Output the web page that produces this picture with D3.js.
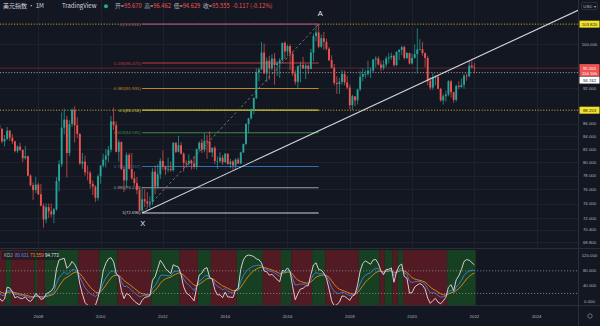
<!DOCTYPE html>
<html><head><meta charset="utf-8">
<script src="https://cdn.jsdelivr.net/npm/d3@7"></script>
<style>
html,body{margin:0;padding:0;background:#131722;overflow:hidden;}
svg{display:block;font-family:"Liberation Sans",Arial,sans-serif;}
text{white-space:pre;}
</style></head><body>
<svg id="chart" width="600" height="326"></svg>
<script>
// US Dollar Index, monthly bars from 2005-01 to 2022-01
const firstYear = 2005;
const open = [
 81.0,83.8,82.4,84.3,84.4,87.5,89.1,88.8,86.9,89.2,89.8,91.6,
 91.2,89.4,90.4,89.7,86.8,85.4,85.4,85.1,85.0,85.8,85.2,83.2,
 83.6,84.9,83.8,83.2,81.7,82.4,81.9,80.6,80.9,78.0,76.6,75.9,
 76.7,75.3,73.7,71.8,73.5,72.9,72.5,73.2,77.2,79.7,85.4,86.7,
 81.4,86.0,88.3,85.8,84.4,79.8,80.1,78.5,78.4,76.8,76.4,74.8,
 77.9,79.5,80.4,81.0,81.9,86.4,85.8,81.6,83.1,79.0,77.3,81.1,
 79.0,77.6,76.9,75.9,73.0,74.6,74.3,74.0,74.2,78.6,76.4,78.2,
 80.2,79.3,78.9,79.0,78.8,83.0,81.6,82.6,81.3,79.9,79.8,80.2,
 79.8,79.3,82.0,83.0,81.9,83.3,83.2,81.5,82.2,80.2,80.2,80.7,
 80.0,81.3,79.7,80.1,79.5,80.4,79.8,81.5,82.8,86.0,86.9,88.4,
 90.3,94.8,95.3,98.4,94.6,96.9,95.5,97.3,96.1,96.4,97.0,100.2,
 98.6,99.6,98.2,94.6,93.1,95.9,96.1,95.5,96.0,95.4,98.4,101.5,
 102.2,99.5,101.1,100.4,99.1,97.0,95.6,92.9,92.7,93.1,94.5,93.0,
 92.1,89.1,90.6,89.9,91.8,94.0,94.5,94.5,95.1,95.1,97.1,97.3,
 96.2,95.6,96.2,97.3,97.5,97.8,96.1,98.5,98.9,99.4,97.4,98.3,
 96.4,97.4,98.1,99.0,99.0,98.3,97.4,93.3,92.1,93.9,94.0,91.9,
 89.9,90.6,90.9,93.2,91.3,90.0,92.4,92.2,92.6,94.2,94.1,96.0,
 95.670];
const high = [
 84.2,84.4,84.6,85.2,87.6,89.6,90.3,89.1,89.5,90.4,92.6,92.0,
 91.6,91.0,91.0,90.1,87.0,87.3,86.4,85.6,86.1,87.0,85.3,84.2,
 85.5,85.0,84.4,83.3,82.6,83.0,81.9,82.5,81.0,78.2,77.0,77.8,
 77.0,76.8,74.0,74.0,74.0,74.0,73.4,77.8,80.3,87.9,88.5,87.3,
 86.6,88.6,88.9,87.1,84.5,81.4,81.0,79.5,78.7,77.3,76.6,78.2,
 79.6,81.3,82.0,82.5,87.3,88.7,86.4,83.5,83.2,79.3,81.5,81.4,
 81.4,78.6,77.8,76.4,76.4,76.0,75.6,75.0,79.1,79.5,79.7,80.6,
 81.8,79.5,80.7,80.1,83.1,83.0,84.1,83.1,81.5,80.3,81.2,80.4,
 80.9,82.1,83.2,83.6,84.5,84.2,84.8,82.3,82.5,80.9,81.5,81.1,
 81.4,81.3,80.5,80.3,80.6,80.7,81.6,82.9,86.1,87.0,88.5,90.4,
 95.5,95.6,100.4,100.1,97.5,97.8,98.1,98.3,96.8,97.4,100.3,100.5,
 99.9,99.9,98.6,95.2,96.0,96.7,97.6,96.3,96.2,99.1,102.0,103.6,
 103.82,101.8,102.3,101.0,99.4,97.9,96.3,94.1,93.8,95.2,95.1,94.2,
 92.6,90.9,90.6,91.9,95.0,95.5,95.2,96.9,95.7,97.2,97.7,97.7,
 96.9,97.0,97.7,98.3,98.4,98.0,98.7,99.0,99.7,99.7,98.5,98.4,
 98.2,99.9,103.0,100.9,100.4,98.4,97.8,93.9,94.7,94.3,94.3,92.0,
 91.0,91.6,93.4,93.4,91.4,92.6,93.2,93.7,94.5,94.6,96.9,96.9,
 96.462];
const low = [
 80.4,81.9,80.4,83.0,84.1,86.7,87.5,86.1,86.4,88.6,89.6,89.9,
 88.9,89.2,88.9,86.6,84.0,84.7,84.7,84.3,84.7,84.9,82.9,82.4,
 83.4,83.3,82.8,81.5,81.4,81.7,80.0,80.4,77.9,76.4,74.5,75.5,
 75.2,73.6,70.7,71.3,72.0,72.1,71.3,73.0,75.7,79.3,84.3,77.7,
 80.9,85.5,83.0,83.7,79.6,79.0,78.0,77.3,76.1,75.2,74.2,74.4,
 76.8,79.2,79.2,80.0,81.5,85.0,81.5,80.1,78.8,75.6,76.2,78.9,
 77.4,76.5,75.3,72.9,72.696,73.5,73.5,73.4,73.8,75.3,76.1,77.5,
 78.9,78.1,78.5,78.6,78.6,81.4,81.5,81.2,78.6,79.2,79.5,78.9,
 79.0,78.9,81.6,81.4,81.5,80.5,81.5,80.8,79.7,79.0,79.9,79.6,
 79.9,79.7,79.1,78.9,78.9,79.8,79.7,81.4,82.6,84.5,86.7,87.6,
 90.1,93.2,95.2,94.5,93.1,93.5,95.1,92.6,94.1,93.8,96.8,97.2,
 97.7,95.2,94.1,92.6,91.9,93.0,95.4,93.6,94.5,95.3,96.8,100.5,
 99.2,99.2,98.9,98.8,96.8,95.5,92.5,91.0,91.0,92.6,92.5,91.8,
 88.4,88.3,88.9,89.2,91.5,93.2,93.7,94.1,93.8,94.8,95.7,96.0,
 95.0,95.2,95.7,96.4,97.0,95.8,95.9,97.0,97.9,97.1,97.2,96.2,
 96.2,97.3,94.6,98.8,97.8,95.7,92.5,91.7,91.7,92.5,91.8,89.7,
 89.2,89.7,90.6,90.4,89.5,89.7,91.8,92.0,91.9,93.3,93.9,95.5,
 94.629];
const close = [
 83.8,82.4,84.3,84.4,87.5,89.1,88.8,86.9,89.2,89.8,91.6,91.2,
 89.4,90.4,89.7,86.8,85.4,85.4,85.1,85.0,85.8,85.2,83.2,83.6,
 84.9,83.8,83.2,81.7,82.4,81.9,80.6,80.9,78.0,76.6,75.9,76.7,
 75.3,73.7,71.8,73.5,72.9,72.5,73.2,77.2,79.7,85.4,86.7,81.4,
 86.0,88.3,85.8,84.4,79.8,80.1,78.5,78.4,76.8,76.4,74.8,77.9,
 79.5,80.4,81.0,81.9,86.4,85.8,81.6,83.1,79.0,77.3,81.1,79.0,
 77.6,76.9,75.9,73.0,74.6,74.3,74.0,74.2,78.6,76.4,78.2,80.2,
 79.3,78.9,79.0,78.8,83.0,81.6,82.6,81.3,79.9,79.8,80.2,79.8,
 79.3,82.0,83.0,81.9,83.3,83.2,81.5,82.2,80.2,80.2,80.7,80.0,
 81.3,79.7,80.1,79.5,80.4,79.8,81.5,82.8,86.0,86.9,88.4,90.3,
 94.8,95.3,98.4,94.6,96.9,95.5,97.3,96.1,96.4,97.0,100.2,98.6,
 99.6,98.2,94.6,93.1,95.9,96.1,95.5,96.0,95.4,98.4,101.5,102.2,
 99.5,101.1,100.4,99.1,97.0,95.6,92.9,92.7,93.1,94.5,93.0,92.1,
 89.1,90.6,89.9,91.8,94.0,94.5,94.5,95.1,95.1,97.1,97.3,96.2,
 95.6,96.2,97.3,97.5,97.8,96.1,98.5,98.9,99.4,97.4,98.3,96.4,
 97.4,98.1,99.0,99.0,98.3,97.4,93.3,92.1,93.9,94.0,91.9,89.9,
 90.6,90.9,93.2,91.3,90.0,92.4,92.2,92.6,94.2,94.1,96.0,95.7,
 95.555];

const yearLabels = [2008, 2010, 2012, 2014, 2016, 2018, 2020, 2022, 2024];
const priceTicks = [68.8, 70.4, 72, 74, 76, 78, 80, 82, 84, 86, 92, 100];
const kdjTicks = [0, 40, 80, 120];
const kdjLevels = [20, 80];
// KDJ trend regimes (month where each one begins) used for the pane shading
const kdjRegimes = [
 ["2005-01", "down"], ["2007-01", "up"], ["2007-03", "down"], ["2007-12", "up"], ["2008-01", "down"],
 ["2008-04", "up"], ["2009-05", "down"], ["2010-01", "up"], ["2010-08", "down"], ["2011-09", "up"],
 ["2012-08", "down"], ["2013-03", "up"], ["2013-08", "down"], ["2014-06", "up"], ["2015-04", "down"],
 ["2015-11", "up"], ["2016-03", "down"], ["2016-11", "up"], ["2017-04", "down"], ["2018-05", "up"],
 ["2019-01", "down"], ["2019-03", "up"], ["2019-06", "down"], ["2019-08", "up"], ["2019-10", "down"],
 ["2021-03", "up"]];

// Fibonacci retracement between the 2011 low (X) and the 2017 high (A)
const fibLow = {month: "2011-05", price: 72.696};
const fibHigh = {month: "2017-01", price: 103.820};
const fibRatios = [0, 0.236, 0.382, 0.5, 0.618, 0.786, 0.886, 1];
// Rising trend line from the 2011 low
const trendPoints = [{month: "2011-05", price: 72.696}, {month: "2022-01", price: 97.3}];
const levelLines = [103.820, 88.253];
const markLine = 94.742;
const lastBar = {open: 95.670, high: 96.462, low: 94.629, close: 95.555, change: -0.117, pct: -0.12};
const countdown = "11d 10h";
const kdjLegend = [80.631, 73.559, 94.773];

const fibColors = ["#9a4a78", "#c23b3f", "#c98420", "#cdc53a", "#3f8a3c", "#2f6fb8", "#9ea1aa", "#cfd1d6"];
const UP = "#26a69a", DOWN = "#ef5350";

const W = 600, H = 326, plotR = 578, mainB = 248, indT = 249, indB = 305;
const idx = m => { const [yy, mm] = m.split("-").map(Number); return (yy - firstYear) * 12 + mm - 1; };

const svg = d3.select("#chart");
svg.append("rect").attr("width", W).attr("height", H).attr("fill", "#131722");
const defs = svg.append("defs");
defs.append("clipPath").attr("id", "cMain").append("rect").attr("x", 0).attr("y", 0).attr("width", plotR).attr("height", mainB);
defs.append("clipPath").attr("id", "cInd").append("rect").attr("x", 0).attr("y", indT).attr("width", plotR).attr("height", indB - indT);

const x = d3.scaleLinear().domain([idx("2008-01"), idx("2022-01")]).range([38.3, 474.4]);
const y = d3.scaleLog().domain([68.04, 108.66]).range([mainB, 0]);
const yk = d3.scaleLinear().domain([0, 120]).range([301, 255.7]);
const step = x(1) - x(0);
const bars = close.map((c, i) => ({i, o: open[i], h: high[i], l: low[i], c}));
const lastIdx = bars.length - 1;

// ---------- KDJ shading (drawn first, under the grid) ----------
const ind = svg.append("g").attr("clip-path", "url(#cInd)");
const spans = kdjRegimes.map(([m, s], k) => ({
  s, a: idx(m), b: k + 1 < kdjRegimes.length ? idx(kdjRegimes[k + 1][0]) - 1 : lastIdx
}));
ind.selectAll("rect.regime").data(spans).join("rect").attr("class", "regime")
  .attr("x", d => x(d.a) - step / 2).attr("width", d => (d.b - d.a + 1) * step)
  .attr("y", indT + 1).attr("height", indB - indT - 1)
  .attr("fill", d => d.s === "up" ? "#173f22" : "#521a22");

// grid
const grid = svg.append("g").attr("stroke", "#1d212c").attr("stroke-width", 1);
yearLabels.forEach(yr => {
  const gx = Math.round(x(idx(yr + "-01"))) + 0.5;
  grid.append("line").attr("x1", gx).attr("x2", gx).attr("y1", 0).attr("y2", mainB);
});
priceTicks.forEach(p => {
  const gy = Math.round(y(p)) + 0.5;
  grid.append("line").attr("x1", 0).attr("x2", plotR).attr("y1", gy).attr("y2", gy);
});

// ---------- main pane ----------
const main = svg.append("g").attr("clip-path", "url(#cMain)");

levelLines.forEach(p => {
  main.append("line").attr("x1", 0).attr("x2", plotR).attr("y1", y(p)).attr("y2", y(p))
    .attr("stroke", "#c9b626").attr("stroke-width", 0.9).attr("stroke-dasharray", "1.2,1.6");
});
main.append("line").attr("x1", 0).attr("x2", plotR).attr("y1", y(lastBar.close)).attr("y2", y(lastBar.close))
  .attr("stroke", "#7a2a30").attr("stroke-width", 0.8);
main.append("line").attr("x1", 0).attr("x2", plotR).attr("y1", y(markLine)).attr("y2", y(markLine))
  .attr("stroke", "#9ea1aa").attr("stroke-width", 0.9).attr("stroke-dasharray", "1.2,1.6");

// fibonacci levels
const iLo = idx(fibLow.month), iHi = idx(fibHigh.month);
const fibG = main.append("g");
fibRatios.forEach((r, k) => {
  const p = fibHigh.price - r * (fibHigh.price - fibLow.price);
  fibG.append("line").attr("x1", x(iLo)).attr("x2", x(iHi)).attr("y1", y(p)).attr("y2", y(p))
    .attr("stroke", fibColors[k]).attr("stroke-width", 1.1);
  fibG.append("text").attr("x", x(iLo) - 1.5).attr("y", y(p)).attr("dy", "0.35em")
    .attr("text-anchor", "end").attr("font-size", 4.3).attr("fill", fibColors[k])
    .text(`${r}(${p.toFixed(3)})`);
});
fibG.append("line").attr("x1", x(iLo)).attr("y1", y(fibLow.price)).attr("x2", x(iHi)).attr("y2", y(fibHigh.price))
  .attr("stroke", "#8a8d96").attr("stroke-width", 0.8).attr("stroke-dasharray", "2.5,2.5");

// candles
const cg = main.append("g");
cg.selectAll("line").data(bars).join("line")
  .attr("x1", d => x(d.i)).attr("x2", d => x(d.i))
  .attr("y1", d => y(d.h)).attr("y2", d => y(d.l))
  .attr("stroke", d => d.c >= d.o ? UP : DOWN).attr("stroke-width", 0.7);
cg.selectAll("rect").data(bars).join("rect")
  .attr("x", d => x(d.i) - step * 0.36).attr("width", step * 0.72)
  .attr("y", d => y(Math.max(d.o, d.c)))
  .attr("height", d => Math.max(0.7, Math.abs(y(d.o) - y(d.c))))
  .attr("fill", d => d.c >= d.o ? UP : DOWN);

// trend line extended to the right edge
{
  const [a, b] = trendPoints;
  const x1 = x(idx(a.month)), y1 = y(a.price), x2 = x(idx(b.month)), y2 = y(b.price);
  const slope = (y2 - y1) / (x2 - x1);
  main.append("line").attr("x1", x1).attr("y1", y1).attr("x2", plotR).attr("y2", y1 + slope * (plotR - x1))
    .attr("stroke", "#d1d4dc").attr("stroke-width", 1.1);
}
main.append("text").attr("x", x(iLo) + 0.5).attr("y", y(fibLow.price) + 13).attr("text-anchor", "middle")
  .attr("font-size", 7.5).attr("fill", "#e6e8ee").text("X");
main.append("text").attr("x", x(iHi) + 1.5).attr("y", y(fibHigh.price) - 8).attr("text-anchor", "middle")
  .attr("font-size", 7.5).attr("fill", "#e6e8ee").text("A");

// ---------- KDJ lines ----------
const K = [], D = [], J = [];
{
  let kp = 50, dp = 50;
  bars.forEach((b, i) => {
    if (i < 8) { K.push(null); D.push(null); J.push(null); return; }
    const hh = d3.max(high.slice(i - 8, i + 1)), ll = d3.min(low.slice(i - 8, i + 1));
    const rsv = (close[i] - ll) / (hh - ll) * 100;
    const k = (rsv + 2 * kp) / 3, d = (k + 2 * dp) / 3;
    K.push(k); D.push(d); J.push(3 * k - 2 * d); kp = k; dp = d;
  });
}
kdjLevels.forEach(v => {
  ind.append("line").attr("x1", 0).attr("x2", plotR).attr("y1", yk(v)).attr("y2", yk(v))
    .attr("stroke", "#8a8d96").attr("stroke-width", 0.8).attr("stroke-dasharray", "1.2,1.8");
});
const line = arr => d3.line().defined(d => arr[d.i] !== null).x(d => x(d.i)).y(d => yk(arr[d.i]))(bars);
[[D, "#e8891f"], [K, "#3a86d4"], [J, "#eadbe3"]].forEach(([arr, col]) => {
  ind.append("path").attr("d", line(arr)).attr("fill", "none").attr("stroke", col).attr("stroke-width", 0.9);
});
// legend
const lg = svg.append("g");
lg.append("rect").attr("x", 2).attr("y", 251).attr("width", 57).attr("height", 9).attr("rx", 1).attr("fill", "#131722").attr("opacity", 0.55);
const lt = lg.append("text").attr("x", 4).attr("y", 257.2).attr("font-size", 4.5);
lt.append("tspan").attr("fill", "#b2b5be").text("KDJ  ");
lt.append("tspan").attr("fill", "#4a8fe0").text(kdjLegend[0].toFixed(3) + " ");
lt.append("tspan").attr("fill", "#e8891f").text(kdjLegend[1].toFixed(3) + " ");
lt.append("tspan").attr("fill", "#e6e8ee").text(kdjLegend[2].toFixed(3));

// ---------- separators ----------
const sep = svg.append("g").attr("stroke", "#2a2e39").attr("stroke-width", 1);
sep.append("line").attr("x1", plotR + 0.5).attr("x2", plotR + 0.5).attr("y1", 0).attr("y2", H);
sep.append("line").attr("x1", 0).attr("x2", W).attr("y1", mainB + 0.5).attr("y2", mainB + 0.5);
sep.append("line").attr("x1", 0).attr("x2", W).attr("y1", indB + 0.5).attr("y2", indB + 0.5);

// ---------- price axis ----------
const ax = svg.append("g").attr("font-size", 4.3).attr("text-anchor", "middle");
priceTicks.forEach(p => {
  ax.append("text").attr("x", 589.5).attr("y", y(p)).attr("dy", "0.35em").attr("fill", "#b2b5be").text(p.toFixed(3));
});
kdjTicks.forEach(v => {
  ax.append("text").attr("x", 589.5).attr("y", yk(v)).attr("dy", "0.35em").attr("fill", "#b2b5be").text(v.toFixed(3));
});
levelLines.forEach(p => {
  ax.append("rect").attr("x", 579.5).attr("y", y(p) - 3.5).attr("width", 20).attr("height", 7).attr("fill", "#f2e229");
  ax.append("text").attr("x", 589.5).attr("y", y(p)).attr("dy", "0.35em").attr("fill", "#131722").text(p.toFixed(3));
});
{
  const py = y(lastBar.close);
  ax.append("rect").attr("x", 579.5).attr("y", py - 4).attr("width", 20).attr("height", 12).attr("fill", "#ef5350");
  ax.append("text").attr("x", 589.5).attr("y", py).attr("dy", "0.35em").attr("fill", "#ffffff").text(lastBar.close.toFixed(3));
  ax.append("text").attr("x", 589.5).attr("y", py + 5).attr("dy", "0.35em").attr("fill", "#ffffff").text(countdown);
  const my = py + 12;
  ax.append("rect").attr("x", 579.5).attr("y", my - 3.5).attr("width", 20).attr("height", 7).attr("fill", "#ffffff");
  ax.append("text").attr("x", 589.5).attr("y", my).attr("dy", "0.35em").attr("fill", "#131722").text(markLine.toFixed(3));
}
ax.append("rect").attr("x", 581.5).attr("y", 2.5).attr("width", 16).attr("height", 7).attr("rx", 1.5)
  .attr("fill", "none").attr("stroke", "#3a3e4a").attr("stroke-width", 0.6);
ax.append("text").attr("x", 589.5).attr("y", 6).attr("dy", "0.35em").attr("fill", "#b2b5be").text("USD ▾");

// ---------- time axis ----------
const tx = svg.append("g").attr("font-size", 4.3).attr("text-anchor", "middle").attr("fill", "#b2b5be");
yearLabels.forEach(yr => {
  tx.append("text").attr("x", x(idx(yr + "-01"))).attr("y", 316).attr("dy", "0.35em").text(yr);
});
svg.append("circle").attr("cx", 590).attr("cy", 316).attr("r", 2.2).attr("fill", "none").attr("stroke", "#8a8d96").attr("stroke-width", 0.7);

// ---------- header ----------
const hd = svg.append("text").attr("x", 3).attr("y", 8).attr("font-size", 6)
  .attr("font-family", "'Noto Sans CJK SC','Liberation Sans',sans-serif").attr("fill", "#d1d4dc");
hd.append("tspan").text("美元指数 · 1M");
hd.append("tspan").attr("x", 62).text("TradingView");
svg.append("circle").attr("cx", 106).attr("cy", 6.3).attr("r", 2).attr("fill", "#22ab94");
const vals = svg.append("text").attr("x", 115).attr("y", 8).attr("font-size", 5.8)
  .attr("font-family", "'Noto Sans CJK SC','Liberation Sans',sans-serif");
[["开", lastBar.open], ["高", lastBar.high], ["低", lastBar.low], ["收", lastBar.close]].forEach(([k, v]) => {
  vals.append("tspan").attr("fill", "#b2b5be").text(k + "=");
  vals.append("tspan").attr("fill", "#ef5350").text(v.toFixed(3) + "  ");
});
vals.append("tspan").attr("fill", "#ef5350").text(`${lastBar.change.toFixed(3)} (${lastBar.pct.toFixed(2)}%)`);
</script>
</body></html>
